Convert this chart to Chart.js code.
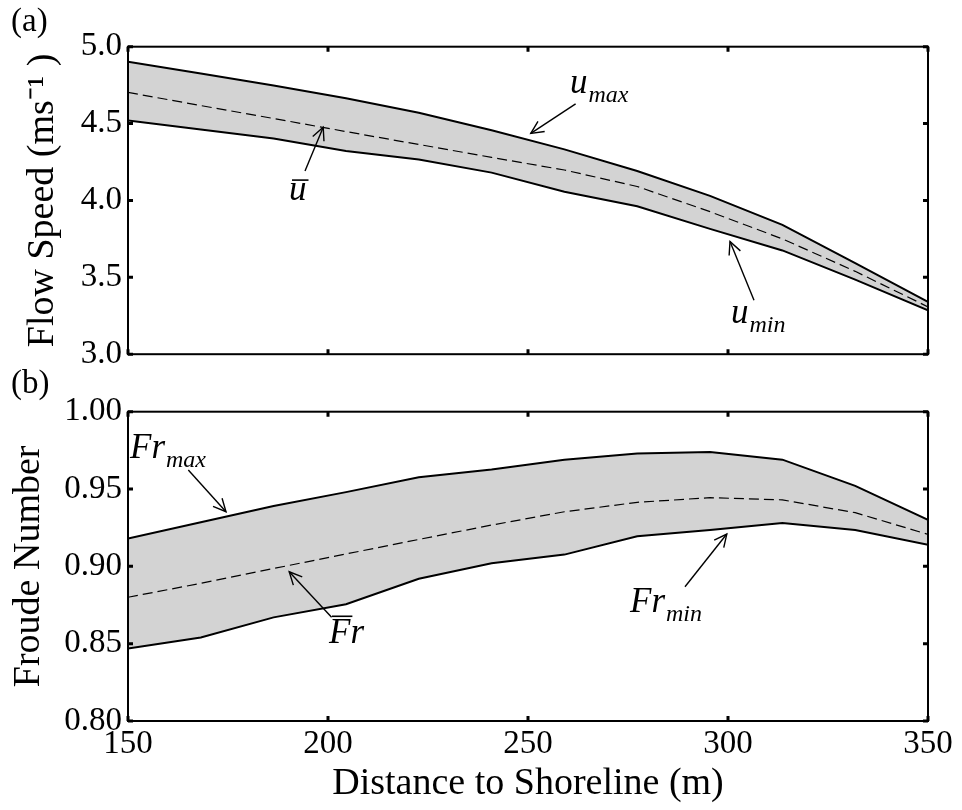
<!DOCTYPE html>
<html><head><meta charset="utf-8">
<script src="https://cdn.jsdelivr.net/npm/chart.js@4.4.1/dist/chart.umd.min.js"></script>
<style>
html,body{margin:0;padding:0;background:#fff;}
#wrap{position:relative;width:962px;height:810px;background:#fff;}
.panel{position:absolute;left:0;width:962px;}
#pa{top:0;height:380px;}
#pb{top:360px;height:450px;}
canvas{display:block;}
</style></head><body>
<div id="wrap">
<div class="panel" id="pa"><canvas id="ca" width="962" height="380"></canvas></div>
<div class="panel" id="pb"><canvas id="cb" width="962" height="450"></canvas></div>
</div>
<script>
// ---- data ----
const distance = [150, 168.2, 186.4, 204.5, 222.7, 240.9, 259.1, 277.3, 295.5, 313.6, 331.8, 350];
const uMax  = [4.903, 4.825, 4.748, 4.665, 4.571, 4.457, 4.332, 4.192, 4.030, 3.841, 3.593, 3.341];
const uMean = [4.703, 4.617, 4.533, 4.448, 4.364, 4.280, 4.198, 4.091, 3.927, 3.750, 3.539, 3.308];
const uMin  = [4.520, 4.461, 4.403, 4.321, 4.267, 4.181, 4.056, 3.962, 3.815, 3.675, 3.485, 3.285];
const frMax  = [0.918, 0.9285, 0.939, 0.948, 0.9576, 0.9627, 0.969, 0.973, 0.974, 0.969, 0.952, 0.930];
const frMean = [0.880, 0.889, 0.8986, 0.908, 0.9174, 0.9267, 0.9353, 0.9414, 0.9444, 0.943, 0.9347, 0.9207];
const frMin  = [0.8468, 0.854, 0.867, 0.8755, 0.892, 0.902, 0.9076, 0.9194, 0.9235, 0.928, 0.9235, 0.914];
const xTickValues = [150, 200, 250, 300, 350];
const xTickLabels = ['150', '200', '250', '300', '350'];
const yTickValuesA = [3.0, 3.5, 4.0, 4.5, 5.0];
const yTickLabelsA = ['3.0', '3.5', '4.0', '4.5', '5.0'];
const yTickValuesB = [0.80, 0.85, 0.90, 0.95, 1.00];
const yTickLabelsB = ['0.80', '0.85', '0.90', '0.95', '1.00'];

// annotations (data coordinates)
const annotA = [
  {main:'u', sub:'max', bar:false, tx:260.5, ty:4.70, from:[261.9,4.628], to:[250.7,4.436]},
  {main:'u', sub:'', bar:true, tx:190.25, ty:4.0023, from:[194.25,4.192], to:[198.8,4.476]},
  {main:'u', sub:'min', bar:false, tx:300.75, ty:3.2005, from:[306.5,3.351], to:[300.5,3.733]}
];
const annotB = [
  {main:'Fr', sub:'max', bar:false, tx:150.5, ty:0.9699, from:[165.08,0.9623], to:[174.5,0.93534]},
  {main:'Fr', sub:'', bar:true, tx:200.25, ty:0.85025, from:[200.9,0.8671], to:[190.3,0.8965]},
  {main:'Fr', sub:'min', bar:false, tx:275.5, ty:0.8707, from:[289.25,0.8868], to:[299.7,0.9209]}
];

const SERIF = '"Liberation Serif", "Times New Roman", serif';
const GRAY = '#d3d3d3';

function pts(ys){ return distance.map((x,i)=>({x:x, y:ys[i]})); }

const framePlugin = {
  id:'frameTicks',
  afterDraw(chart){
    const {ctx, chartArea:{left,right,top,bottom}, scales:{x,y}} = chart;
    ctx.save();
    ctx.strokeStyle='#000';
    ctx.lineWidth=2;
    ctx.strokeRect(left,top,right-left,bottom-top);
    ctx.lineWidth=3;
    const L=5;
    ctx.beginPath();
    x.ticks.forEach(t=>{
      const p=x.getPixelForValue(t.value);
      ctx.moveTo(p,bottom); ctx.lineTo(p,bottom-L);
      ctx.moveTo(p,top); ctx.lineTo(p,top+L);
    });
    y.ticks.forEach(t=>{
      const p=y.getPixelForValue(t.value);
      ctx.moveTo(left,p); ctx.lineTo(left+L,p);
      ctx.moveTo(right,p); ctx.lineTo(right-L,p);
    });
    ctx.stroke();
    // panel letter
    const o = chart.options.plugins.frameTicks;
    ctx.fillStyle='#000';
    ctx.font='33px '+SERIF;
    ctx.textAlign='left'; ctx.textBaseline='alphabetic';
    ctx.fillText(o.letter, 11, o.letterY);
    ctx.restore();
  }
};

const annotPlugin = {
  id:'annot',
  afterDatasetsDraw(chart){
    const {ctx, scales:{x,y}} = chart;
    const list = chart.options.plugins.annot.items;
    ctx.save();
    ctx.strokeStyle='#000'; ctx.fillStyle='#000';
    list.forEach(a=>{
      // arrow
      const x0=x.getPixelForValue(a.from[0]), y0=y.getPixelForValue(a.from[1]);
      const x1=x.getPixelForValue(a.to[0]), y1=y.getPixelForValue(a.to[1]);
      ctx.lineWidth=1.4;
      ctx.beginPath(); ctx.moveTo(x0,y0); ctx.lineTo(x1,y1); ctx.stroke();
      const ang=Math.atan2(y1-y0,x1-x0), H=14, w=0.45;
      ctx.beginPath();
      ctx.moveTo(x1-H*Math.cos(ang-w), y1-H*Math.sin(ang-w));
      ctx.lineTo(x1,y1);
      ctx.lineTo(x1-H*Math.cos(ang+w), y1-H*Math.sin(ang+w));
      ctx.stroke();
      // label
      const tx=x.getPixelForValue(a.tx), ty=y.getPixelForValue(a.ty);
      ctx.textAlign='left'; ctx.textBaseline='alphabetic';
      ctx.font='italic 35px '+SERIF;
      ctx.fillText(a.main, tx, ty);
      const wMain = ctx.measureText(a.main).width;
      if(a.bar){
        const first = ctx.measureText(a.main[0]).width;
        const by = a.main==='u' ? ty-20 : ty-27;
        ctx.lineWidth=1.6;
        ctx.beginPath(); ctx.moveTo(tx+3, by); ctx.lineTo(tx+first+2, by); ctx.stroke();
      }
      if(a.sub){
        ctx.font='italic 24px '+SERIF;
        ctx.fillText(a.sub, tx+wMain+1, ty+9);
      }
    });
    ctx.restore();
  }
};

function makeChart(id, cfg){
  const xLabelsShow = cfg.showX;
  return new Chart(document.getElementById(id), {
    type:'line',
    data:{datasets:[
      {data:pts(cfg.max), borderColor:'#000', borderWidth:2, pointRadius:0, tension:0, fill:1, backgroundColor:GRAY},
      {data:pts(cfg.min), borderColor:'#000', borderWidth:2, pointRadius:0, tension:0, fill:false},
      {data:pts(cfg.mean), borderColor:'#000', borderWidth:1.2, borderDash:[10,5], pointRadius:0, tension:0, fill:false}
    ]},
    options:{
      responsive:false, animation:false,
      layout:{padding:{top:cfg.padTop, right:34, bottom:0, left:0}},
      plugins:{
        legend:{display:false}, tooltip:{enabled:false},
        filler:{drawTime:'beforeDatasetsDraw'},
        frameTicks:{letter:cfg.letter, letterY:cfg.letterY},
        annot:{items:cfg.annot}
      },
      scales:{
        x:{
          type:'linear', min:150, max:350,
          grid:{display:false, drawTicks:false, tickLength:0}, border:{display:false},
          afterBuildTicks(s){ s.ticks = xTickValues.map(v=>({value:v})); },
          afterFit(s){ s.height = cfg.xHeight; },
          ticks:{display:xLabelsShow, padding:4, color:'#000', font:{family:SERIF, size:33},
                 callback:(v,i)=>xTickLabels[i]},
          title:{display:xLabelsShow, text:'Distance to Shoreline (m)', color:'#000',
                 font:{family:SERIF, size:38, lineHeight:1.2}, padding:{top:0,bottom:3}}
        },
        y:{
          type:'linear', min:cfg.ymin, max:cfg.ymax,
          grid:{display:false, drawTicks:false, tickLength:0}, border:{display:false},
          afterBuildTicks(s){ s.ticks = cfg.yTicks.map(v=>({value:v})); },
          afterFit(s){ s.width = 128; },
          ticks:{padding:6, color:'#000', font:{family:SERIF, size:33},
                 callback:(v,i)=>cfg.yLabels[i]},
          title:{display:true, text:cfg.ytitle, color:'#000',
                 font:{family:SERIF, size:38, lineHeight:1.2}, padding:{top:cfg.titlePad, bottom:0}}
        }
      }
    },
    plugins:[framePlugin, annotPlugin]
  });
}

makeChart('ca', {max:uMax, min:uMin, mean:uMean, showX:false, xHeight:24, padTop:46.7,
  ymin:3.0, ymax:5.0, yTicks:yTickValuesA, yLabels:yTickLabelsA,
  ytitle:'Flow Speed (ms\u207B\u00B9 )', titlePad:20, letter:'(a)', letterY:31, annot:annotA});
makeChart('cb', {max:frMax, min:frMin, mean:frMean, showX:true, xHeight:89, padTop:51.7,
  ymin:0.80, ymax:1.00, yTicks:yTickValuesB, yLabels:yTickLabelsB,
  ytitle:'Froude Number', titlePad:6, letter:'(b)', letterY:33, annot:annotB});
</script>
</body></html>
